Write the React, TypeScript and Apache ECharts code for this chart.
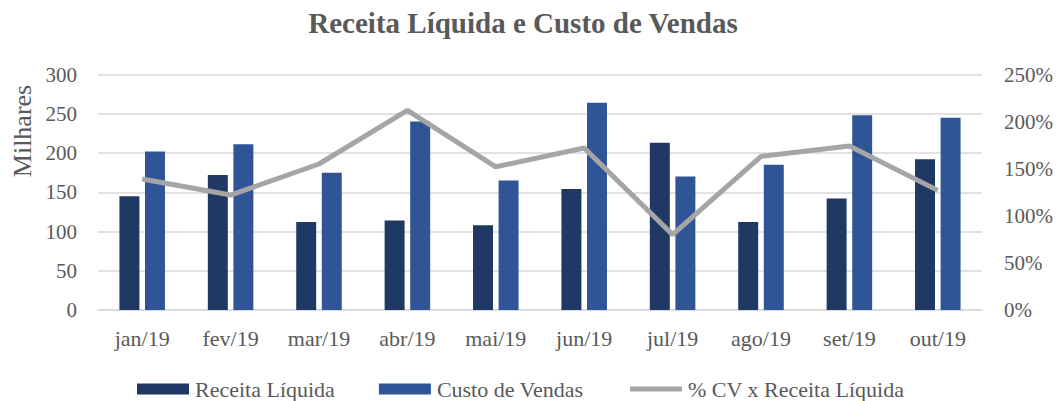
import React, { useEffect, useRef } from "react";
import * as echarts from "echarts";

const categories = ["jan/19", "fev/19", "mar/19", "abr/19", "mai/19", "jun/19", "jul/19", "ago/19", "set/19", "out/19"];
const receitaLiquida = [145, 172, 112, 114, 108, 154, 213, 112, 142, 192];
const custoVendas = [202, 211, 175, 240, 165, 264, 170, 185, 248, 245];
const cvPercent = [139, 122, 155, 212, 152, 172, 80, 163, 174, 127];

const FONT = "'Liberation Serif', 'Times New Roman', serif";
const TEXT = "#595959";

export default function App() {
  const ref = useRef<HTMLDivElement>(null);
  useEffect(() => {
    if (!ref.current) return;
    const chart = echarts.init(ref.current, undefined, { renderer: "svg" });
    chart.setOption({
      animation: false,
      backgroundColor: "#ffffff",
      textStyle: { fontFamily: FONT, color: TEXT },
      title: {
        text: "Receita Líquida e Custo de Vendas",
        left: 523,
        textAlign: "center",
        top: 8,
        padding: 0,
        textStyle: { fontFamily: FONT, fontSize: 29, fontWeight: "bold", color: TEXT },
      },
      graphic: [
        {
          type: "text",
          x: 22,
          y: 131,
          rotation: Math.PI / 2,
          style: {
            text: "Milhares",
            fontFamily: FONT,
            fontSize: 26,
            fill: TEXT,
            textAlign: "center",
            textVerticalAlign: "middle",
          },
        },
      ],
      legend: {
        left: 137,
        top: 378,
        padding: 0,
        itemWidth: 52,
        itemHeight: 11,
        itemGap: 44,
        textStyle: { fontFamily: FONT, fontSize: 22, color: TEXT, padding: [0, 0, 0, 1] },
        data: [
          { name: "Receita Líquida", icon: "rect" },
          { name: "Custo de Vendas", icon: "rect" },
          {
            name: "% CV x Receita Líquida",
            itemStyle: { opacity: 0 },
            lineStyle: { width: 5, color: "#A5A5A5" },
          },
        ],
      },
      grid: { left: 98, right: 78, top: 74.5, bottom: 91, containLabel: false },
      xAxis: {
        type: "category",
        data: categories,
        axisLine: { lineStyle: { color: "#D9D9D9", width: 1.5 } },
        axisTick: { show: false },
        axisLabel: { fontFamily: FONT, fontSize: 22, color: TEXT, margin: 17 },
      },
      yAxis: [
        {
          type: "value",
          min: 0,
          max: 300,
          interval: 50,
          axisLine: { show: false },
          axisTick: { show: false },
          splitLine: { lineStyle: { color: "#D9D9D9", width: 1.5 } },
          axisLabel: { fontFamily: FONT, fontSize: 21, color: TEXT, margin: 21 },
        },
        {
          type: "value",
          min: 0,
          max: 250,
          interval: 50,
          axisLine: { show: false },
          axisTick: { show: false },
          splitLine: { show: false },
          axisLabel: { fontFamily: FONT, fontSize: 21, color: TEXT, margin: 22, formatter: "{value}%" },
        },
      ],
      series: [
        {
          name: "Receita Líquida",
          type: "bar",
          data: receitaLiquida,
          barWidth: "22.6%",
          barGap: "28%",
          itemStyle: { color: "#203864" },
        },
        {
          name: "Custo de Vendas",
          type: "bar",
          data: custoVendas,
          barWidth: "22.6%",
          barGap: "28%",
          itemStyle: { color: "#2F5597" },
        },
        {
          name: "% CV x Receita Líquida",
          type: "line",
          yAxisIndex: 1,
          data: cvPercent,
          symbol: "none",
          showSymbol: false,
          itemStyle: { color: "#A5A5A5" },
          lineStyle: { color: "#A5A5A5", width: 5 },
        },
      ],
    });
    return () => chart.dispose();
  }, []);
  return (
    <div
      ref={ref}
      style={{ position: "fixed", left: 0, top: 0, width: 1060, height: 401, background: "#fff" }}
    />
  );
}
